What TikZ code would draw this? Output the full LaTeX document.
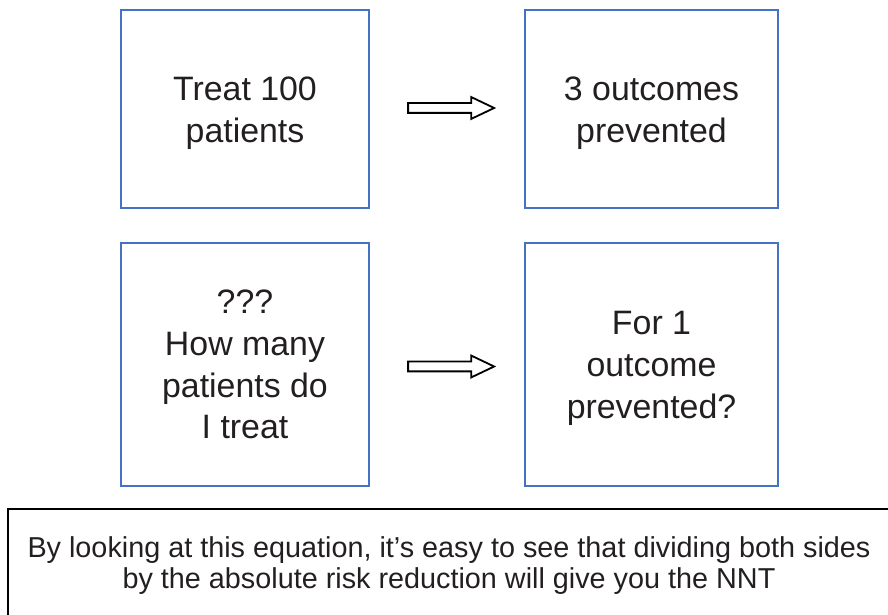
\documentclass[tikz,border=0pt]{standalone}
\usepackage{fontspec}
\setmainfont{Liberation Sans}
\usetikzlibrary{shapes.arrows, calc}

\definecolor{boxblue}{RGB}{68,114,196}
\definecolor{ink}{RGB}{35,31,32}

\begin{document}
\begin{tikzpicture}[x=1bp, y=1bp,
	box/.style={draw=boxblue, line width=2.6bp, inner sep=0pt},
	boxtext/.style={align=center, text=ink, font=\fontsize{34}{42}\selectfont},
	fatarrow/.style={single arrow, draw=black, line width=1.8bp, inner xsep=0pt,
		inner ysep=4bp, single arrow head extend=6bp, single arrow tip angle=51,
		minimum height=86bp}]
	\clip (0,0) rectangle (888,615);
	
	\node[box, minimum width=248bp, minimum height=198bp,
		label={[boxtext, yshift=-4bp]center:Treat 100\\patients}] (treat) at (245,506) {};
	\node[box, minimum width=253bp, minimum height=198bp,
		label={[boxtext, yshift=-4bp]center:3 outcomes\\prevented}] (three) at (651.5,506) {};
	\node[box, minimum width=248bp, minimum height=243bp,
		label={[boxtext]center:???\\How many\\patients do\\I treat}] (howmany) at (245,250.5) {};
	\node[box, minimum width=253bp, minimum height=243bp,
		label={[boxtext, yshift=-4bp]center:For 1\\outcome\\prevented?}] (one) at (651.5,250.5) {};
	
	\node[fatarrow] (a1) at ($(treat.east)!0.5!(three.west)+(-1,1)$) {};
	\node[fatarrow] (a2) at ($(howmany.east)!0.5!(one.west)+(-1,-2)$) {};
	
	% note at the bottom, frame runs off the page
	\draw[line width=1.8bp] (8,106) rectangle (920,-20);
	\node[text=ink, align=center, font=\fontsize{28.9}{30.5}\selectfont] (note) at (449,49.5)
		{By looking at this equation, it’s easy to see that dividing both sides\\by the absolute risk reduction will give you the NNT};
\end{tikzpicture}
\end{document}
